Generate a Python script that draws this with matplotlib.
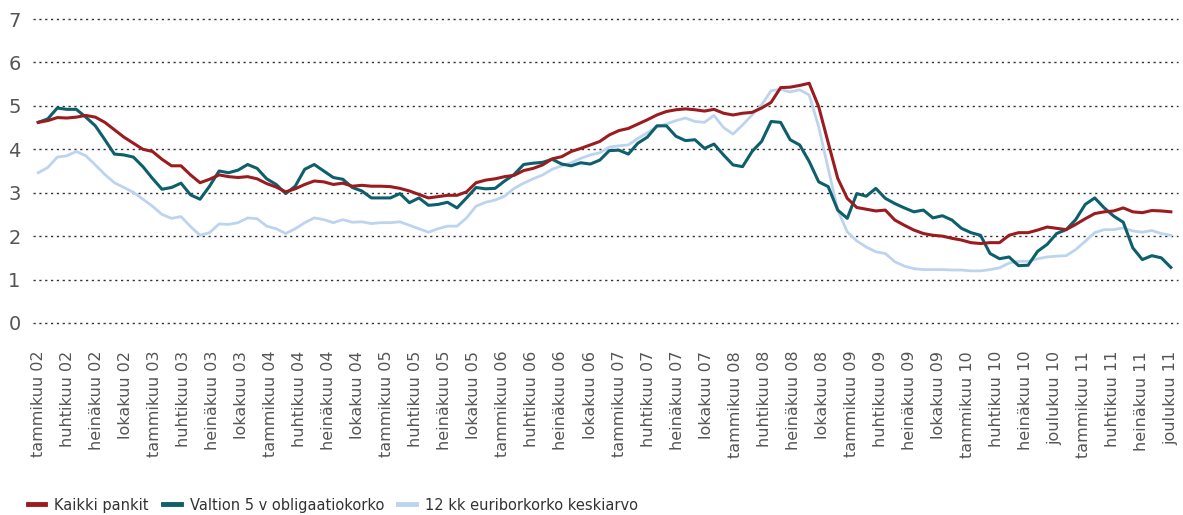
import matplotlib
matplotlib.use("Agg")
import matplotlib.pyplot as plt
import numpy as np

# monthly series, tammikuu 2002 - joulukuu 2011
kaikki_pankit = [
    4.62, 4.66, 4.73, 4.72, 4.74, 4.78, 4.74, 4.62, 4.45, 4.28, 4.14, 4.00, 3.95, 3.77, 3.62, 3.62, 3.41,
    3.23, 3.31, 3.41, 3.37, 3.35, 3.37, 3.32, 3.21, 3.13, 3.02, 3.09, 3.19, 3.27, 3.25, 3.19, 3.22, 3.15,
    3.17, 3.15, 3.15, 3.14, 3.10, 3.04, 2.96, 2.88, 2.91, 2.94, 2.94, 3.02, 3.23, 3.29, 3.32, 3.37, 3.40,
    3.51, 3.56, 3.64, 3.78, 3.83, 3.95, 4.02, 4.10, 4.18, 4.33, 4.43, 4.48, 4.58, 4.68, 4.79, 4.87, 4.91,
    4.93, 4.91, 4.88, 4.92, 4.83, 4.79, 4.83, 4.85, 4.95, 5.08, 5.42, 5.43, 5.47, 5.52, 4.98, 4.15,
    3.33, 2.87, 2.66, 2.62, 2.58, 2.60, 2.37, 2.25, 2.14, 2.06, 2.02, 2.00, 1.95, 1.91, 1.85, 1.83, 1.85, 1.85,
    2.02, 2.08, 2.08, 2.14, 2.21, 2.18, 2.15, 2.27, 2.40, 2.52, 2.56, 2.58, 2.65, 2.56, 2.54, 2.59, 2.58, 2.56,
]
valtion_5v = [
    4.62, 4.70, 4.95, 4.92, 4.92, 4.74, 4.54, 4.22, 3.89, 3.87, 3.82, 3.60, 3.33, 3.08, 3.12, 3.22, 2.95,
    2.85, 3.15, 3.50, 3.46, 3.52, 3.65, 3.56, 3.32, 3.19, 2.98, 3.15, 3.54, 3.65, 3.50, 3.35, 3.31, 3.12,
    3.04, 2.88, 2.88, 2.88, 2.98, 2.77, 2.88, 2.71, 2.73, 2.78, 2.65, 2.88, 3.12, 3.09, 3.10, 3.27, 3.42,
    3.65, 3.68, 3.70, 3.77, 3.66, 3.62, 3.69, 3.66, 3.75, 3.97, 3.98, 3.89, 4.14, 4.28, 4.54, 4.54, 4.30,
    4.20, 4.22, 4.02, 4.12, 3.87, 3.64, 3.60, 3.95, 4.18, 4.64, 4.62, 4.22, 4.10, 3.72, 3.25, 3.14,
    2.60, 2.41, 2.98, 2.92, 3.10, 2.87, 2.75, 2.65, 2.56, 2.60, 2.42, 2.47, 2.37, 2.18, 2.08, 2.02, 1.60, 1.48,
    1.52, 1.32, 1.33, 1.65, 1.81, 2.06, 2.15, 2.38, 2.73, 2.88, 2.65, 2.46, 2.32, 1.73, 1.46, 1.55, 1.50, 1.28,
]
euribor_12kk = [
    3.46, 3.58, 3.82, 3.85, 3.95, 3.85, 3.64, 3.42, 3.23, 3.12, 3.01, 2.85, 2.69, 2.50, 2.41, 2.45, 2.22,
    2.02, 2.08, 2.28, 2.27, 2.31, 2.42, 2.40, 2.23, 2.17, 2.06, 2.17, 2.31, 2.42, 2.38, 2.31, 2.38, 2.32,
    2.33, 2.29, 2.31, 2.31, 2.33, 2.25, 2.17, 2.09, 2.17, 2.23, 2.23, 2.42, 2.69, 2.78, 2.83, 2.92, 3.10,
    3.22, 3.32, 3.41, 3.54, 3.62, 3.69, 3.79, 3.87, 3.92, 4.05, 4.08, 4.10, 4.25, 4.38, 4.52, 4.58, 4.66,
    4.72, 4.64, 4.62, 4.78, 4.50, 4.35, 4.56, 4.79, 5.02, 5.35, 5.38, 5.32, 5.37, 5.25, 4.52, 3.55,
    2.60, 2.10, 1.89, 1.75, 1.64, 1.60, 1.41, 1.31, 1.25, 1.23, 1.23, 1.23, 1.22, 1.22, 1.20, 1.20, 1.23, 1.27,
    1.38, 1.42, 1.42, 1.48, 1.52, 1.54, 1.55, 1.69, 1.88, 2.08, 2.15, 2.15, 2.19, 2.12, 2.09, 2.13, 2.06, 2.02,
]

tick_labels = [
    "tammikuu 02", "huhtikuu 02", "heinäkuu 02", "lokakuu 02",
    "tammikuu 03", "huhtikuu 03", "heinäkuu 03", "lokakuu 03",
    "tammikuu 04", "huhtikuu 04", "heinäkuu 04", "lokakuu 04",
    "tammikuu 05", "huhtikuu 05", "heinäkuu 05", "lokakuu 05",
    "tammikuu 06", "huhtikuu 06", "heinäkuu 06", "lokakuu 06",
    "tammikuu 07", "huhtikuu 07", "heinäkuu 07", "lokakuu 07",
    "tammikuu 08", "huhtikuu 08", "heinäkuu 08", "lokakuu 08",
    "tammikuu 09", "huhtikuu 09", "heinäkuu 09", "lokakuu 09",
    "tammikuu 10", "huhtikuu 10", "heinäkuu 10", "joulukuu 10",
    "tammikuu 11", "huhtikuu 11", "heinäkuu 11", "joulukuu 11",
]
y_ticks = [0, 1, 2, 3, 4, 5, 6, 7]

c_red = "#9b1c1f"
c_teal = "#0d5f6c"
c_light = "#bcd4ee"

x = np.arange(len(kaikki_pankit))

fig = plt.figure(figsize=(11.83, 5.15), dpi=100)
ax = fig.add_axes([33/1183, 1-323/515, (1178-33)/1183, (323-19)/515])

l3, = ax.plot(x, euribor_12kk, color=c_light, lw=2.0, label="12 kk euriborkorko keskiarvo", zorder=3)
l2, = ax.plot(x, valtion_5v, color=c_teal, lw=2.2, label="Valtion 5 v obligaatiokorko", zorder=4)
l1, = ax.plot(x, kaikki_pankit, color=c_red, lw=2.2, label="Kaikki pankit", zorder=5)

ax.set_ylim(0, 7)
ax.set_xlim(-0.55, len(x) - 1 + 0.75)
ax.set_yticks(y_ticks)
# dotted gridlines
for v in y_ticks:
    ax.axhline(v, color="#333333", lw=1.0, ls=(0, (1.6, 2.6)), zorder=1, clip_on=False)

ax.set_xticks(np.linspace(0, len(x) - 1, len(tick_labels)))
ax.set_xticklabels(tick_labels, rotation=90, fontsize=11.5, color="#555555")
ax.tick_params(axis="x", length=0, pad=20)
ax.tick_params(axis="y", length=0, pad=9, labelsize=14, labelcolor="#555555")
for s in ax.spines.values():
    s.set_visible(False)

fig.legend(handles=[l1, l2, l3], loc="lower left", bbox_to_anchor=(0.015, -0.015),
           ncol=3, frameon=False, fontsize=10.5, handlelength=1.2, handletextpad=0.6,
           columnspacing=1.0, borderpad=0.2, labelcolor="#333333")
for h in fig.legends[0].legend_handles:
    h.set_linewidth(3.5)

fig.savefig("out.png", dpi=100)
